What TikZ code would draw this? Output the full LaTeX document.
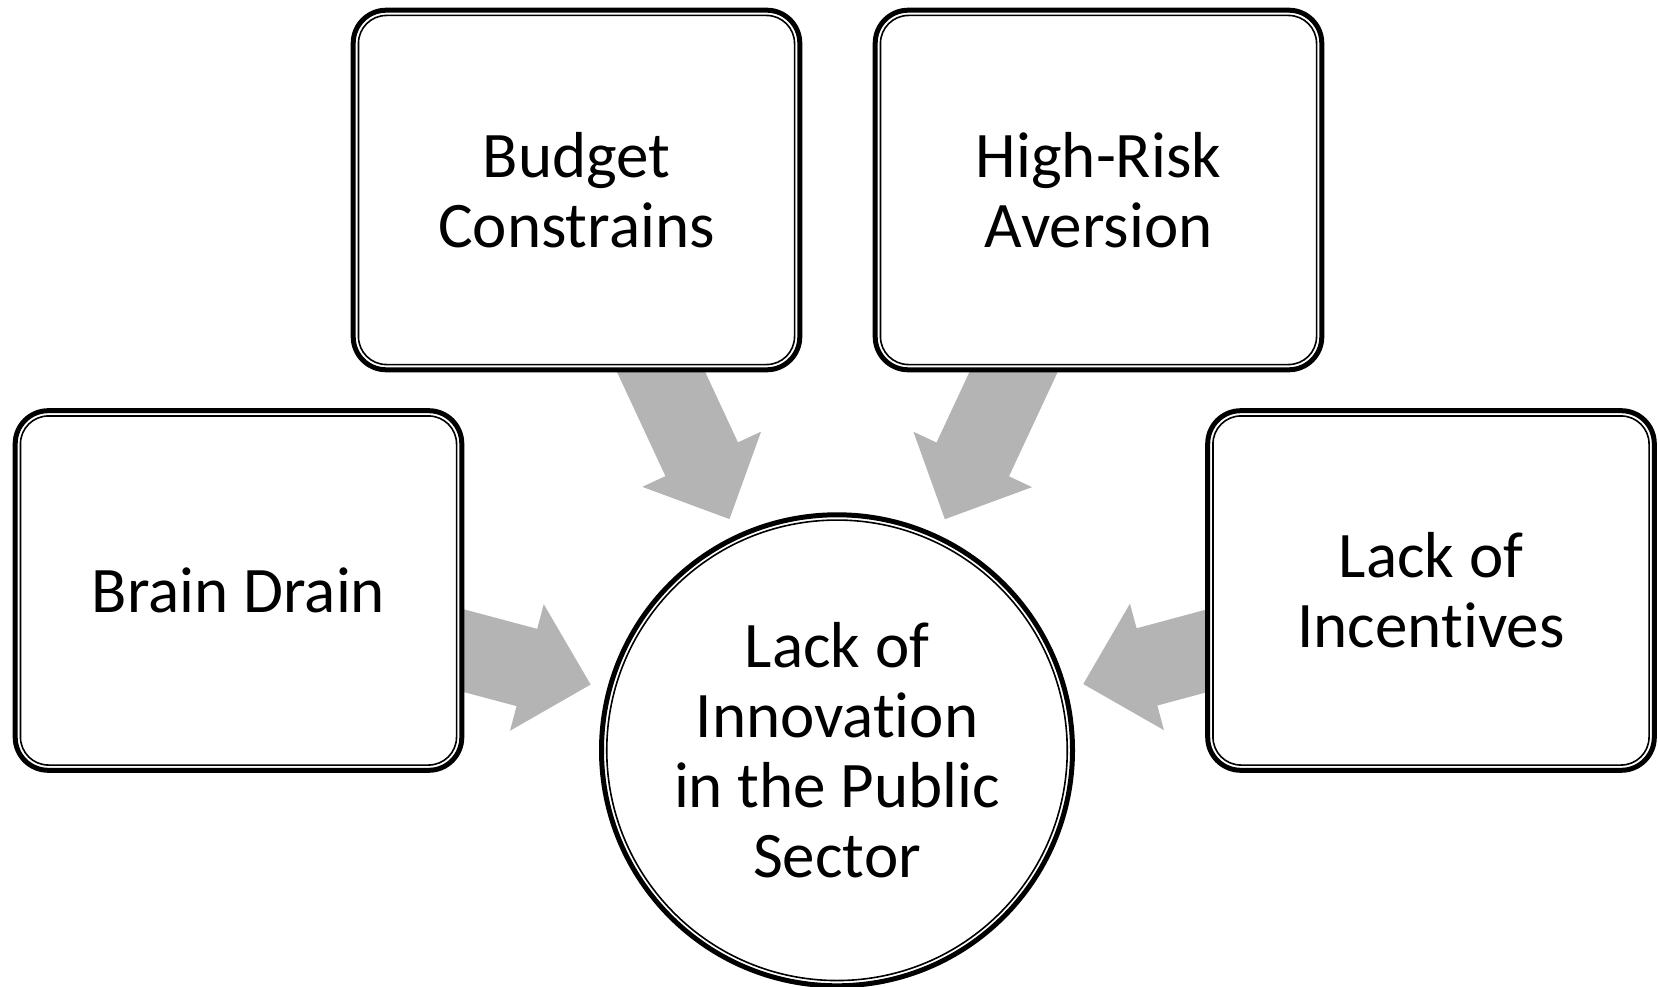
\documentclass[tikz,border=0pt]{standalone}
\usepackage{fontspec}
\setmainfont{Carlito}[Ligatures={NoCommon,NoRare},RawFeature={-liga;-dlig;-clig}]
\usetikzlibrary{calc}
\pgfdeclarelayer{background}
\pgfsetlayers{background,main}
\definecolor{arrowgray}{RGB}{180,180,180}
\tikzset{
  causebox/.style={rectangle, rounded corners=33pt, draw=black, line width=5pt, fill=white,
    minimum width=446.6pt, minimum height=359.6pt, outer sep=0pt, inner sep=0pt,
    align=center, font=\fontsize{65}{70}\selectfont},
  centercircle/.style={circle, draw=black, line width=5pt, fill=white,
    minimum size=471pt, outer sep=0pt, inner sep=0pt,
    align=center, font=\fontsize{65}{70}\selectfont},
  innerline/.style={draw=black, line width=1.6pt},
  blockarrow/.style={fill=arrowgray, draw=none},
}
\newcommand\myinnerbox[1]{%
  \draw[innerline, rounded corners=28pt] ([shift={(5.25pt,5.25pt)}]#1.south west) rectangle ([shift={(-5.25pt,-5.25pt)}]#1.north east);}
\newcommand\myarrow[2]{%
  \coordinate (tip) at ($(#2.center)!255pt!(#1.center)$);
  \coordinate (hb) at ($(tip)!66pt!(#1.center)$);
  \coordinate (tl) at ($(tip)!220pt!(#1.center)$);
  \fill[blockarrow] ($(tl)!40pt!90:(tip)$) -- ($(hb)!40pt!90:(tip)$) -- ($(hb)!65.5pt!90:(tip)$)
    -- (tip) -- ($(hb)!65.5pt!-90:(tip)$) -- ($(hb)!40pt!-90:(tip)$) -- ($(tl)!40pt!-90:(tip)$) -- cycle;}
\begin{document}
\begin{tikzpicture}[x=1pt,y=1pt]
  \useasboundingbox (0,0) rectangle (1658,-987);
  \node[causebox] (budget) at (576.5,-190) {Budget\\Constrains};
  \myinnerbox{budget}
  \node[causebox] (risk) at (1098.5,-190) {High-Risk\\Aversion};
  \myinnerbox{risk}
  \node[causebox] (brain) at (238.5,-590.5) {Brain Drain};
  \myinnerbox{brain}
  \node[causebox] (incent) at (1431,-590.5) {Lack of\\Incentives};
  \myinnerbox{incent}
  \node[centercircle] (core) at (837,-750.3) {Lack of\\Innovation\\in the Public\\Sector};
  \draw[innerline] (core.center) circle (230.25pt);
  \begin{pgfonlayer}{background}
    \myarrow{budget}{core}
    \myarrow{risk}{core}
    \myarrow{brain}{core}
    \myarrow{incent}{core}
  \end{pgfonlayer}
\end{tikzpicture}
\end{document}
